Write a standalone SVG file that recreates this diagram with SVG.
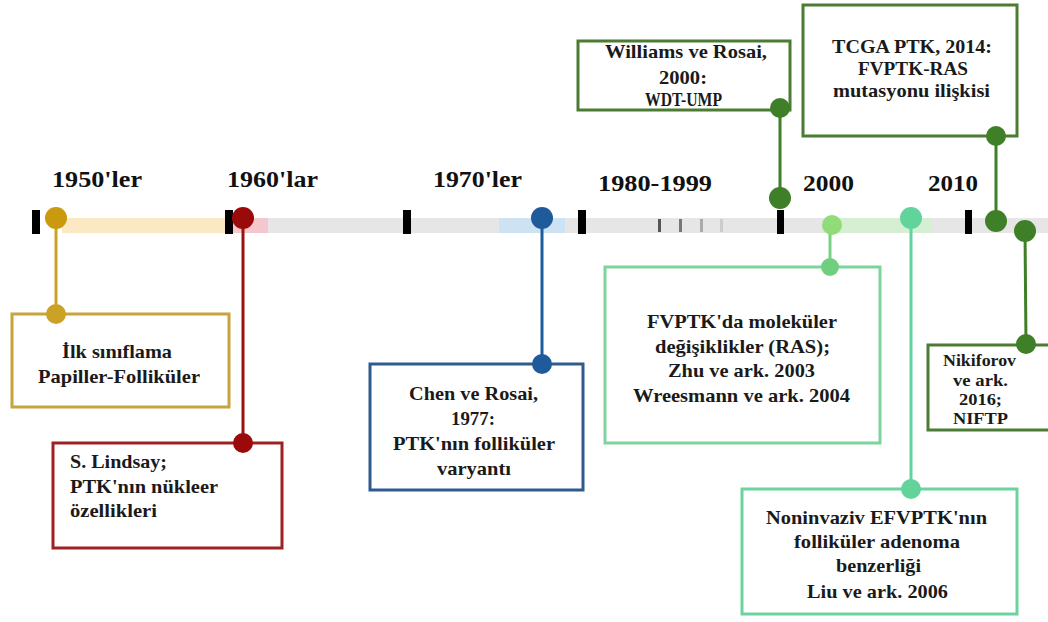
<svg xmlns="http://www.w3.org/2000/svg" width="1048" height="622" viewBox="0 0 1048 622">
<style>
text{font-family:'Liberation Serif','DejaVu Serif',serif;font-weight:bold;fill:#1a1a1a}
.t{font-size:19.5px}
.yr{font-size:24px;fill:#111}
.s{font-size:16px}
.box{fill:#fff;stroke-width:3}
.tick{fill:#000}
.ln{stroke-width:3;fill:none}
</style>
<rect width="1048" height="622" fill="#fff"/>
<g id="timeline">
<rect x="268" y="218" width="780" height="15" fill="#e6e6e6"/>
<rect x="62" y="218" width="164" height="15" fill="#fbe9c3"/>
<rect x="233" y="218" width="35" height="15" fill="#f5c6cb"/>
<rect x="499" y="218" width="66" height="15" fill="#cde2f3"/>
<rect x="832" y="218" width="100" height="15" fill="#d6efd2"/>
<rect x="658" y="219" width="3" height="13" fill="#555"/>
<rect x="679" y="219" width="3" height="13" fill="#777"/>
<rect x="700" y="219" width="3" height="13" fill="#aaa"/>
<rect x="720" y="219" width="3" height="13" fill="#ccc"/>
<rect class="tick" x="32" y="210" width="8" height="24"/>
<rect class="tick" x="225" y="210" width="8" height="24"/>
<rect class="tick" x="403" y="210" width="8" height="24"/>
<rect class="tick" x="578" y="210" width="8" height="24"/>
<rect class="tick" x="777" y="210" width="7" height="24"/>
<rect class="tick" x="965" y="210" width="7" height="24"/>
<text class="yr" x="52" y="187" textLength="90" lengthAdjust="spacingAndGlyphs">1950'ler</text>
<text class="yr" x="227" y="187" textLength="91" lengthAdjust="spacingAndGlyphs">1960'lar</text>
<text class="yr" x="433" y="187" textLength="89" lengthAdjust="spacingAndGlyphs">1970'ler</text>
<text class="yr" x="598" y="191" textLength="114" lengthAdjust="spacingAndGlyphs">1980-1999</text>
<text class="yr" x="803" y="191" textLength="51" lengthAdjust="spacingAndGlyphs">2000</text>
<text class="yr" x="928" y="191" textLength="50" lengthAdjust="spacingAndGlyphs">2010</text>
</g>
<g id="connectors">
<line class="ln" x1="56" y1="218" x2="56" y2="314" stroke="#c9a227"/>
<line class="ln" x1="243" y1="218" x2="243" y2="443" stroke="#9b1111"/>
<line class="ln" x1="542" y1="218" x2="542" y2="364" stroke="#1f5a9a"/>
<line class="ln" x1="830" y1="225" x2="830" y2="267" stroke="#78d184"/>
<line class="ln" x1="911" y1="218" x2="911" y2="489" stroke="#63d39c"/>
<line class="ln" x1="780" y1="108" x2="780" y2="198" stroke="#3f7f27"/>
<line class="ln" x1="996" y1="136" x2="996" y2="221" stroke="#3f7f27"/>
<line class="ln" x1="1025" y1="231" x2="1026" y2="344" stroke="#3f7f27"/>
</g>
<g id="n1950">
<rect class="box" x="12" y="314" width="217" height="93" stroke="#c8a43c"/>
<text class="t" x="62" y="358" textLength="110" lengthAdjust="spacingAndGlyphs">İlk sınıflama</text>
<text class="t" x="38" y="383" textLength="162" lengthAdjust="spacingAndGlyphs">Papiller-Folliküler</text>
</g>
<g id="n1960">
<rect class="box" x="53" y="443" width="229" height="105" stroke="#a02020"/>
<text class="t" x="70" y="468" textLength="97" lengthAdjust="spacingAndGlyphs">S. Lindsay;</text>
<text class="t" x="70" y="493" textLength="148" lengthAdjust="spacingAndGlyphs">PTK'nın nükleer</text>
<text class="t" x="70" y="517" textLength="87" lengthAdjust="spacingAndGlyphs">özellikleri</text>
</g>
<g id="n1977">
<rect class="box" x="370" y="364" width="213" height="126" stroke="#2e5a8f"/>
<text class="t" x="409" y="400" textLength="129" lengthAdjust="spacingAndGlyphs">Chen ve Rosai,</text>
<text class="t" x="451" y="425" textLength="44" lengthAdjust="spacingAndGlyphs">1977:</text>
<text class="t" x="393" y="450" textLength="162" lengthAdjust="spacingAndGlyphs">PTK'nın folliküler</text>
<text class="t" x="437" y="475" textLength="74" lengthAdjust="spacingAndGlyphs">varyantı</text>
</g>
<g id="n2003">
<rect class="box" x="605" y="267" width="275" height="176" stroke="#7dd39c"/>
<text class="t" x="647" y="328" textLength="190" lengthAdjust="spacingAndGlyphs">FVPTK'da moleküler</text>
<text class="t" x="655" y="353" textLength="175" lengthAdjust="spacingAndGlyphs">değişiklikler (RAS);</text>
<text class="t" x="668" y="377" textLength="147" lengthAdjust="spacingAndGlyphs">Zhu ve ark. 2003</text>
<text class="t" x="633" y="402" textLength="217" lengthAdjust="spacingAndGlyphs">Wreesmann ve ark. 2004</text>
</g>
<g id="n2006">
<rect class="box" x="742" y="489" width="275" height="125" stroke="#6cd3a0"/>
<text class="t" x="766" y="524" textLength="221" lengthAdjust="spacingAndGlyphs">Noninvaziv EFVPTK'nın</text>
<text class="t" x="794" y="548" textLength="166" lengthAdjust="spacingAndGlyphs">folliküler adenoma</text>
<text class="t" x="836" y="572" textLength="85" lengthAdjust="spacingAndGlyphs">benzerliği</text>
<text class="t" x="807" y="598" textLength="141" lengthAdjust="spacingAndGlyphs">Liu ve ark. 2006</text>
</g>
<g id="n2000">
<rect class="box" x="578" y="41" width="212" height="69" stroke="#4a7d33"/>
<text class="t" x="605" y="58" textLength="162" lengthAdjust="spacingAndGlyphs">Williams ve Rosai,</text>
<text class="t" x="659" y="84" textLength="48" lengthAdjust="spacingAndGlyphs">2000:</text>
<text class="t" x="645" y="106" textLength="77" lengthAdjust="spacingAndGlyphs">WDT-UMP</text>
</g>
<g id="n2014">
<rect class="box" x="803" y="5" width="214" height="131" stroke="#4a7d33"/>
<text class="t" x="832" y="53" textLength="160" lengthAdjust="spacingAndGlyphs">TCGA PTK, 2014:</text>
<text class="t" x="858" y="75" textLength="110" lengthAdjust="spacingAndGlyphs">FVPTK-RAS</text>
<text class="t" x="833" y="97" textLength="157" lengthAdjust="spacingAndGlyphs">mutasyonu ilişkisi</text>
</g>
<g id="n2016">
<rect class="box" x="928" y="345" width="126" height="85" stroke="#4a7d33"/>
<text class="s" x="943" y="366" textLength="73" lengthAdjust="spacingAndGlyphs">Nikiforov</text>
<text class="s" x="953" y="386" textLength="55" lengthAdjust="spacingAndGlyphs">ve ark.</text>
<text class="s" x="959" y="405" textLength="43" lengthAdjust="spacingAndGlyphs">2016;</text>
<text class="s" x="953" y="424" textLength="55" lengthAdjust="spacingAndGlyphs">NIFTP</text>
</g>
<g id="dots">
<circle cx="56" cy="218" r="11" fill="#c9990e"/>
<circle cx="56" cy="314" r="10" fill="#c9a227"/>
<circle cx="243" cy="218" r="11" fill="#9b0a0a"/>
<circle cx="243" cy="443" r="10" fill="#9b0a0a"/>
<circle cx="542" cy="218" r="11" fill="#1f5a9a"/>
<circle cx="542" cy="364" r="10" fill="#1f5a9a"/>
<circle cx="832" cy="225" r="10" fill="#8fdc78"/>
<circle cx="830" cy="267" r="9" fill="#70cf7e"/>
<circle cx="911" cy="218" r="11" fill="#63d39c"/>
<circle cx="911" cy="489" r="10" fill="#63d39c"/>
<circle cx="780" cy="198" r="11" fill="#3f7f27"/>
<circle cx="780" cy="108" r="10" fill="#3f7f27"/>
<circle cx="996" cy="221" r="11" fill="#3f7f27"/>
<circle cx="996" cy="136" r="10" fill="#3f7f27"/>
<circle cx="1025" cy="231" r="11" fill="#3f7f27"/>
<circle cx="1026" cy="344" r="10" fill="#3f7f27"/>
</g>
</svg>
